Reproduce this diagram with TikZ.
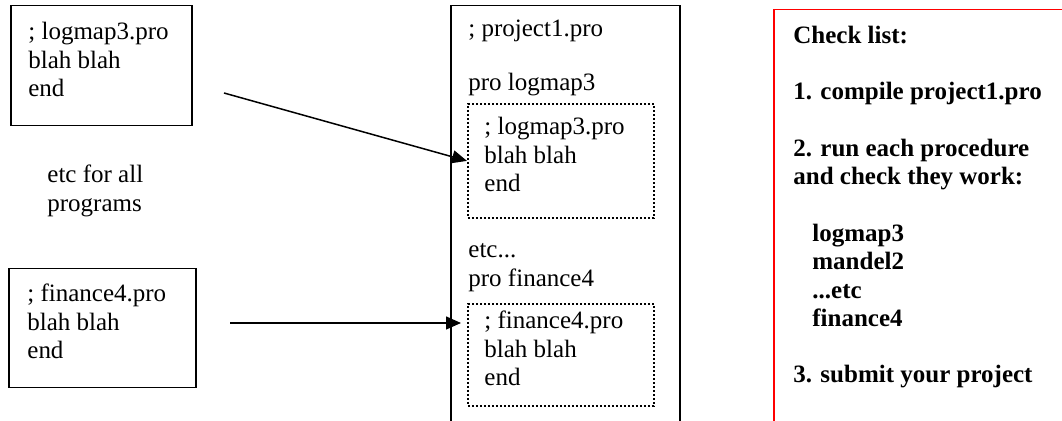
\documentclass[tikz,border=0pt]{standalone}
\usepackage{fontspec}
\setmainfont{Liberation Serif}
\usetikzlibrary{arrows.meta}
\usetikzlibrary{positioning}
\usetikzlibrary{calc}

\begin{document}
\begin{tikzpicture}[x=0.5pt, y=-0.5pt]
    \tikzset{
        every node/.style={font=\fontsize{12.5}{14.15}\selectfont},
        srcbox/.style={draw, line width=0.75pt, inner sep=0pt, anchor=north west},
        dotbox/.style={draw, line width=0.9pt, dash pattern=on 1pt off 1pt, inner sep=0pt, anchor=north west},
        code/.style={align=left, inner sep=0pt, anchor=base west},
        feed/.style={line width=0.75pt, -{Triangle[length=7.5pt, width=6.5pt]}}
    }
    \useasboundingbox (0,0) rectangle (1062,421);

    % single programs (code nodes sit on the baseline of their last line)
    \node (logsrc) [srcbox, minimum width=90.5pt, minimum height=60pt] at (10,5) {};
    \node (finsrc) [srcbox, minimum width=93.5pt, minimum height=59.5pt] at (8,268) {};
    \node (logsrctext) [code] at ([shift={(18,91.6)}]logsrc.north west) {; logmap3.pro\\blah blah\\end};
    \node (finsrctext) [code] at ([shift={(19,90.6)}]finsrc.north west) {; finance4.pro\\blah blah\\end};
    \node (etcnote) [code] at (47,211.3) {etc for all\\programs};

    % the project file
    \node (project) [srcbox, minimum width=114.5pt, minimum height=215pt] at (450,5) {};
    \node (projhead) [code] at ([shift={(18,32)}]project.north west) {; project1.pro};
    \node (prolog) [code] at ([shift={(18,86)}]project.north west) {pro logmap3};
    \node (logcopy) [dotbox, minimum width=93pt, minimum height=57pt] at (467,103) {};
    \node (logcopytext) [code] at ([shift={(17,88.6)}]logcopy.north west) {; logmap3.pro\\blah blah\\end};
    \node (profin) [code] at ([shift={(18,281.3)}]project.north west) {etc...\\pro finance4};
    \node (fincopy) [dotbox, minimum width=93pt, minimum height=51pt] at (467,303) {};
    \node (fincopytext) [code] at ([shift={(17,82.6)}]fincopy.north west) {; finance4.pro\\blah blah\\end};

    \coordinate (logtail) at (224,93);
    \coordinate (fintail) at (230,323);
    \draw [feed] (logtail) -- (logcopy.west);
    \draw [feed, shorten >=3pt] (fintail) -- (fintail -| fincopy.west);

    % check list
    \node (checkbox) [srcbox, draw=red, minimum width=150pt, minimum height=215pt] at (773,9) {};
    \node (checktext) [code, font=\fontsize{12.5}{14.15}\selectfont\bfseries] at ([shift={(20,374)}]checkbox.north west) {Check list:\\[14.15pt]
        1. compile project1.pro\\[14.15pt]
        2. run each procedure\\
        and check they work:\\[14.15pt]
        \hspace*{9.5pt}logmap3\\
        \hspace*{9.5pt}mandel2\\
        \hspace*{9.5pt}...etc\\
        \hspace*{9.5pt}finance4\\[14.15pt]
        3. submit your project};

\end{tikzpicture}
\end{document}
